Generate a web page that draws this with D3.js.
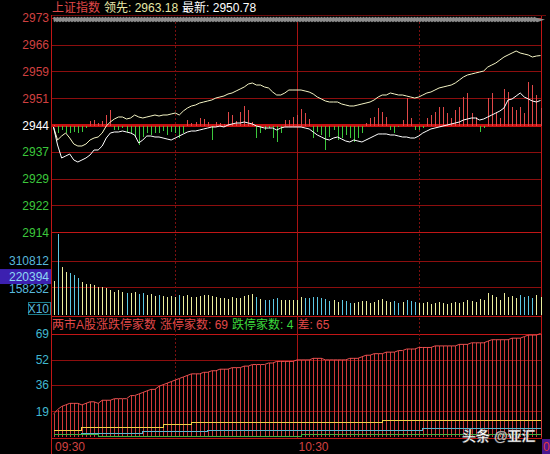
<!DOCTYPE html>
<html><head><meta charset="utf-8">
<script src="https://cdn.jsdelivr.net/npm/d3@7"></script>
<style>body{margin:0;background:#000}svg{display:block}</style>
</head><body><svg id="c" width="550" height="454"></svg>
<script>
// ---------- DATA ----------
const timeLabels = ['09:30', '10:30'];
const timeTickMinutes = [0, 60];
const priceTickLabels = ['2973','2966','2959','2951','2944','2937','2929','2922','2914'];
const prevClose = 2944;
const priceStep = 7.4;
const leadValue = '2963.18';
const lastValue = '2950.78';
const leadPrice = [2943.45,2939.86,2940.96,2941.79,2940.41,2938.75,2938.20,2938.20,2938.75,2939.86,
2940.41,2940.69,2941.79,2943.72,2944.83,2945.66,2946.21,2946.21,2945.66,2945.93,
2946.76,2946.21,2945.93,2946.21,2946.48,2946.76,2946.48,2946.76,2946.76,2947.04,
2947.31,2946.76,2947.87,2948.69,2949.25,2949.52,2950.07,2950.35,2950.63,2950.90,
2951.45,2951.73,2952.01,2952.56,2952.84,2953.39,2953.94,2954.49,2955.32,2955.60,
2955.04,2955.04,2954.49,2954.22,2953.11,2952.28,2952.28,2952.84,2953.66,2953.66,
2953.66,2953.66,2953.39,2953.11,2952.56,2951.73,2951.18,2950.63,2950.35,2950.35,
2950.35,2949.80,2949.52,2949.25,2949.25,2949.52,2949.80,2950.07,2950.35,2950.90,
2951.73,2952.28,2952.28,2952.84,2952.56,2952.28,2952.28,2952.01,2951.73,2951.45,
2951.73,2952.28,2952.84,2953.11,2953.66,2954.22,2954.49,2954.77,2955.04,2955.60,
2956.42,2957.25,2957.81,2958.08,2958.36,2958.63,2958.91,2960.01,2960.57,2961.12,
2961.95,2962.77,2963.33,2963.88,2964.43,2963.88,2963.60,2963.33,2962.77,2963.05,
2963.18];
const lastPrice = [2943.45,2938.48,2934.89,2935.44,2935.99,2934.34,2933.78,2934.34,2934.89,2935.72,
2937.10,2937.10,2938.20,2940.41,2941.79,2942.07,2942.07,2942.34,2942.07,2941.79,
2941.24,2939.03,2939.86,2940.96,2940.96,2940.69,2940.69,2940.41,2940.13,2939.86,
2940.41,2940.96,2941.52,2942.07,2942.34,2942.34,2942.62,2942.90,2943.17,2943.45,
2943.45,2943.72,2943.45,2944.00,2944.28,2944.55,2944.55,2944.83,2944.55,2944.28,
2943.72,2943.45,2943.17,2943.17,2943.17,2942.62,2943.17,2943.45,2943.45,2943.45,
2943.45,2943.45,2943.17,2942.90,2942.07,2941.24,2940.69,2940.13,2939.86,2940.41,
2940.69,2940.13,2939.58,2939.31,2939.86,2939.58,2939.31,2939.86,2940.41,2940.96,
2941.52,2941.52,2941.52,2941.24,2941.24,2940.96,2940.69,2940.69,2940.41,2940.41,
2940.96,2941.79,2942.34,2942.90,2943.17,2943.45,2943.72,2944.00,2944.28,2944.55,
2944.83,2945.38,2945.66,2945.93,2945.93,2945.38,2945.66,2946.21,2946.76,2947.31,
2947.87,2948.69,2950.90,2951.18,2952.01,2952.84,2951.73,2951.18,2950.63,2950.35,
2950.78];
const buySellPower = [0,-8,-5,-8,-8,-7,-8,-7,-3,4,
5,2,4,10,15,-5,-5,-3,-7,-8,
-12,-20,-12,-8,-10,-8,-8,-6,-10,-7,
-8,-13,-8,5,2,3,7,6,3,-15,
3,2,1,13,10,4,13,19,15,3,
-13,-8,-5,-3,-13,-17,-8,5,5,8,
10,16,12,6,-13,-7,-10,-25,-12,-5,
-15,-13,-10,-13,-17,-13,-8,2,7,8,
17,13,8,-5,-8,-2,5,27,7,-5,
-5,-3,7,10,13,18,18,12,7,15,
18,28,32,12,8,-7,-3,27,32,13,
7,36,33,18,15,18,12,43,40,30,
17];
const volume = [195000,464000,275000,246000,241000,229000,212000,189000,178000,178000,
172000,160000,160000,155000,143000,132000,143000,132000,126000,126000,
132000,120000,126000,115000,120000,109000,115000,109000,103000,109000,
103000,115000,109000,115000,103000,103000,109000,115000,115000,109000,
103000,97000,97000,92000,103000,97000,97000,109000,115000,120000,
103000,92000,86000,86000,92000,97000,86000,86000,86000,86000,
86000,103000,97000,97000,103000,103000,97000,92000,80000,86000,
75000,86000,80000,69000,69000,75000,80000,80000,69000,75000,
86000,92000,80000,75000,80000,69000,75000,86000,80000,75000,
69000,69000,75000,63000,69000,75000,69000,63000,69000,75000,
69000,75000,86000,80000,75000,92000,86000,126000,115000,103000,
86000,126000,103000,109000,97000,115000,103000,109000,97000,115000,
103000];
const volTickValues = [310812, 158232];
const volCurrent = 220394;
const limitTicks = [69, 52, 36, 19];
const limitUp = [17,20,22,23,24,24,24,23,24,25,
25,24,26,26,26,27,27,27,27,29,
29,30,31,32,33,33,35,36,37,38,
39,40,41,42,43,43,43,44,44,45,
45,46,46,46,47,47,47,48,48,49,
49,49,49,50,50,51,51,51,51,51,
52,52,52,52,53,53,53,52,52,52,
52,52,52,53,53,53,54,55,55,56,
56,56,57,57,57,58,58,59,59,59,
60,60,60,60,61,61,61,61,61,61,
62,62,62,63,63,63,63,64,65,65,
65,65,65,66,66,66,67,68,68,68,
69];
const limitDown = [4,4,4,4,4,4,4,4,4,4,
4,3,3,3,3,3,3,3,3,3,
3,3,3,3,3,3,3,3,3,3,
3,3,3,3,3,3,3,3,3,3,
3,3,3,3,3,3,3,3,3,3,
3,3,3,3,3,3,3,3,3,3,
3,4,4,4,4,4,4,4,4,4,
4,4,4,4,4,4,4,4,4,4,
4,4,4,4,4,4,4,4,4,4,
4,4,4,4,4,4,4,4,4,4,
4,4,4,4,4,4,4,4,4,4,
4,4,4,4,4,4,4,4,4,4,
4];
const seriesYellow = [7,7,7,7,7,7,7,9,9,9,
9,9,9,9,9,9,9,9,9,9,
9,9,9,9,9,9,9,11,11,11,
11,11,11,11,12,12,12,12,12,12,
12,12,12,12,12,12,12,12,12,12,
12,12,12,12,12,12,12,12,12,12,
12,12,12,12,12,12,12,12,12,12,
12,12,12,12,12,12,12,12,12,12,
12,13,13,13,13,13,13,13,13,13,
13,13,13,13,13,13,13,13,13,13,
13,13,13,13,13,13,13,13,13,13,
13,13,13,13,13,13,13,13,13,13,
13];
const seriesCyan = [4,4,4,4,4,4,4,5,5,5,
5,5,5,5,5,5,5,5,5,5,
5,5,6,6,6,6,6,6,6,6,
6,6,6,6,6,6,6,6,7,7,
7,7,7,7,7,7,7,7,7,7,
7,7,7,7,7,7,7,7,7,7,
7,7,7,7,7,7,7,7,7,7,
7,7,7,7,7,7,7,7,7,7,
7,7,7,7,7,7,7,7,7,7,
7,8,8,8,8,8,8,8,8,8,
8,8,8,8,8,8,8,8,8,8,
8,8,8,8,8,8,8,8,8,8,
8];

// ---------- CHART ----------
const svg = d3.select('#c');
const FONT = "'Liberation Sans','Noto Sans CJK SC',Arial,sans-serif";
const red = '#d04040', green = '#3cc83c', cyanTxt = '#58b8dc';
const gridC = '#8c0e0e', borderC = '#c01616';

svg.append('rect').attr('width', 550).attr('height', 454).attr('fill', '#000');

const x = d3.scaleLinear().domain([0, 120]).range([53.5, 540.5]);
const yP = d3.scaleLinear().domain([prevClose - 4 * priceStep, prevClose + 4 * priceStep]).range([232.2, 17.8]);
const yRG = d3.scaleLinear().domain([-50, 50]).range([yP(prevClose) + 50, yP(prevClose) - 50]);
const yV = d3.scaleLinear().domain([0, 470000]).range([315, 233]);
const yL = d3.scaleLinear().domain([2, 69]).range([437.5, 333.5]);
const L = 51.5, R = 541.5;
const px = i => Math.round(x(i)) + 0.5;

const g = svg.append('g').attr('shape-rendering', 'crispEdges');

// price grid lines
priceTickLabels.forEach((lab, i) => {
  const v = prevClose + (4 - i) * priceStep;
  const yy = Math.round(yP(v)) + 0.5;
  if (i === 4) return;
  g.append('line').attr('x1', L).attr('x2', R).attr('y1', yy).attr('y2', yy)
    .attr('stroke', i === 8 || i === 0 ? borderC : gridC).attr('stroke-width', 1);
});
// volume grid
volTickValues.forEach(v => {
  const yy = Math.round(yV(v)) + 0.5;
  g.append('line').attr('x1', L).attr('x2', R).attr('y1', yy).attr('y2', yy).attr('stroke', gridC);
});
// pane border between volume and limit pane
g.append('line').attr('x1', L).attr('x2', R).attr('y1', 316.5).attr('y2', 316.5).attr('stroke', borderC);
// limit pane grid
limitTicks.forEach((t, i) => {
  const yy = Math.round(yL(t)) + 0.5;
  g.append('line').attr('x1', L).attr('x2', R).attr('y1', yy).attr('y2', yy)
    .attr('stroke', i === 0 ? borderC : gridC);
});

// vertical grid
[30, 60, 90].forEach(m => {
  const xx = px(m);
  g.append('line').attr('x1', xx).attr('x2', xx).attr('y1', 22).attr('y2', 438)
    .attr('stroke', m === 60 ? '#a81212' : '#7a1010')
    .attr('stroke-dasharray', m === 60 ? null : '2,2');
});
// borders
g.append('line').attr('x1', L).attr('x2', L).attr('y1', 15).attr('y2', 454).attr('stroke', borderC);
g.append('line').attr('x1', R).attr('x2', R).attr('y1', 15).attr('y2', 438).attr('stroke', borderC);
g.append('line').attr('x1', L).attr('x2', R + 4).attr('y1', 15.5).attr('y2', 15.5).attr('stroke', '#6a0a0a');

// gray progress band with zigzag edges
const zz = [];
for (let xx = 53; xx <= 537; xx += 1.5) zz.push([xx, (Math.round((xx - 53) / 1.5) % 2) ? 16.8 : 17.8]);
const zzb = [];
for (let xx = 537; xx >= 53; xx -= 1.5) zzb.push([xx, (Math.round((xx - 53) / 1.5) % 2) ? 22.2 : 21.2]);
const band = zz.concat([[545, 19.5]]).concat(zzb);
svg.append('path').attr('d', 'M' + band.map(p => p.join(',')).join('L') + 'Z').attr('fill', '#8c8c8c');

// baseline (prev close)
const by = Math.round(yP(prevClose));
g.append('line').attr('x1', L).attr('x2', R).attr('y1', by + 0.5).attr('y2', by + 0.5).attr('stroke', '#c81212').attr('stroke-width', 3);

// buy/sell power bars
g.selectAll('.rg').data(buySellPower).enter().append('line')
  .attr('x1', (d, i) => px(i)).attr('x2', (d, i) => px(i))
  .attr('y1', by + 0.5).attr('y2', d => Math.round(yRG(d)))
  .attr('stroke', d => d >= 0 ? '#e04848' : '#3cc83c');

// price lines
const lp = d3.line().x((d, i) => x(i)).y(d => yP(d));
svg.append('path').datum(leadPrice).attr('d', lp).attr('fill', 'none').attr('stroke', '#f4f4c4').attr('stroke-width', 1);
svg.append('path').datum(lastPrice).attr('d', lp).attr('fill', 'none').attr('stroke', '#ffffff').attr('stroke-width', 1);

// volume bars
g.selectAll('.vb').data(volume).enter().append('line')
  .attr('x1', (d, i) => px(i)).attr('x2', (d, i) => px(i))
  .attr('y1', 315).attr('y2', d => Math.round(yV(d)))
  .attr('stroke', (d, i) => (i === 0 || leadPrice[i] >= leadPrice[i - 1]) ? '#ecec9c' : '#5cc8e4');

// limit pane: red bars + lines
g.selectAll('.lb').data(limitUp).enter().append('line')
  .attr('x1', (d, i) => px(i)).attr('x2', (d, i) => px(i))
  .attr('y1', 437).attr('y2', d => Math.round(yL(d)))
  .attr('stroke', '#d03a3a');
svg.append('path').datum(limitUp).attr('d', d3.line().x((d, i) => x(i)).y(d => yL(d)))
  .attr('fill', 'none').attr('stroke', '#e85050');
const step = d3.line().x((d, i) => x(i)).y(d => Math.round(yL(d)) + 0.5).curve(d3.curveStepAfter);
g.append('path').datum(seriesYellow).attr('d', step).attr('fill', 'none').attr('stroke', '#f0d048');
g.append('path').datum(seriesCyan).attr('d', step).attr('fill', 'none').attr('stroke', '#58b8d0');
g.append('path').datum(limitDown).attr('d', step).attr('fill', 'none').attr('stroke', '#40b040');
g.append('line').attr('x1', L).attr('x2', R).attr('y1', 438.5).attr('y2', 438.5).attr('stroke', borderC);

// ---------- TEXT ----------
const txt = (xx, yy, s, fill, anchor = 'end', size = 12) =>
  svg.append('text').attr('x', xx).attr('y', yy).attr('fill', fill).attr('text-anchor', anchor)
    .attr('font-family', FONT).attr('font-size', size).attr('dominant-baseline', 'central').text(s);

priceTickLabels.forEach((lab, i) => {
  const v = prevClose + (4 - i) * priceStep;
  txt(49, yP(v) + 0.5, lab, i < 4 ? red : (i === 4 ? '#ffffff' : green));
});
// volume labels
txt(49, yV(volTickValues[0]) + 0.5, d3.format('d')(volTickValues[0]), cyanTxt);
txt(49, yV(volTickValues[1]) + 2, d3.format('d')(volTickValues[1]), cyanTxt);
svg.append('rect').attr('x', 0).attr('y', yV(volCurrent) - 7.5).attr('width', 51).attr('height', 15).attr('fill', '#3c20b0');
txt(49, yV(volCurrent) + 0.5, d3.format('d')(volCurrent), '#8cd8f4');
svg.append('rect').attr('x', 28.5).attr('y', 302.5).attr('width', 22).attr('height', 12).attr('fill', 'none').attr('stroke', '#1c7c8c');
txt(49, 309, 'X10', cyanTxt);
// limit pane labels
limitTicks.forEach(t => txt(49, yL(t) + 0.5, String(t), '#40b8d0'));

// time labels
timeTickMinutes.forEach((m, i) => {
  svg.append('text').attr('x', x(m) + 1.5).attr('y', 451).attr('fill', red)
    .attr('font-family', FONT).attr('font-size', 12).text(timeLabels[i]);
});
svg.append('rect').attr('x', 542).attr('y', 439).attr('width', 8).attr('height', 15).attr('fill', '#4a1890');
svg.append('text').attr('x', 543).attr('y', 451).attr('fill', '#e03838').attr('font-family', FONT).attr('font-size', 12).text('0');

// titles
const t1 = svg.append('text').attr('x', 52).attr('y', 12).attr('font-family', FONT).attr('font-size', 12);
t1.append('tspan').attr('fill', '#e04848').text('上证指数');
t1.append('tspan').attr('fill', '#e8e8a8').attr('dx', 4).text('领先: ' + leadValue);
t1.append('tspan').attr('fill', '#ffffff').attr('dx', 4).text('最新: ' + lastValue);

const t2 = svg.append('text').attr('x', 52).attr('y', 329).attr('font-family', FONT).attr('font-size', 12);
const upN = limitUp[limitUp.length - 1], dnN = limitDown[limitDown.length - 1];
t2.append('tspan').attr('fill', '#e04848').text('两市A股涨跌停家数');
t2.append('tspan').attr('fill', '#e04848').attr('dx', 4).text('涨停家数: ' + upN);
t2.append('tspan').attr('fill', '#3cd83c').attr('dx', 4).text('跌停家数: ' + dnN);
t2.append('tspan').attr('fill', '#e04848').attr('dx', 4).text('差: ' + (upN - dnN));

// watermark
svg.append('text').attr('x', 462).attr('y', 441).attr('fill', '#ffffff').attr('font-family', FONT)
  .attr('font-size', 14).attr('font-weight', 'bold').attr('stroke', '#555').attr('stroke-width', 0.4)
  .text('头条 @亚汇');
</script></body></html>
